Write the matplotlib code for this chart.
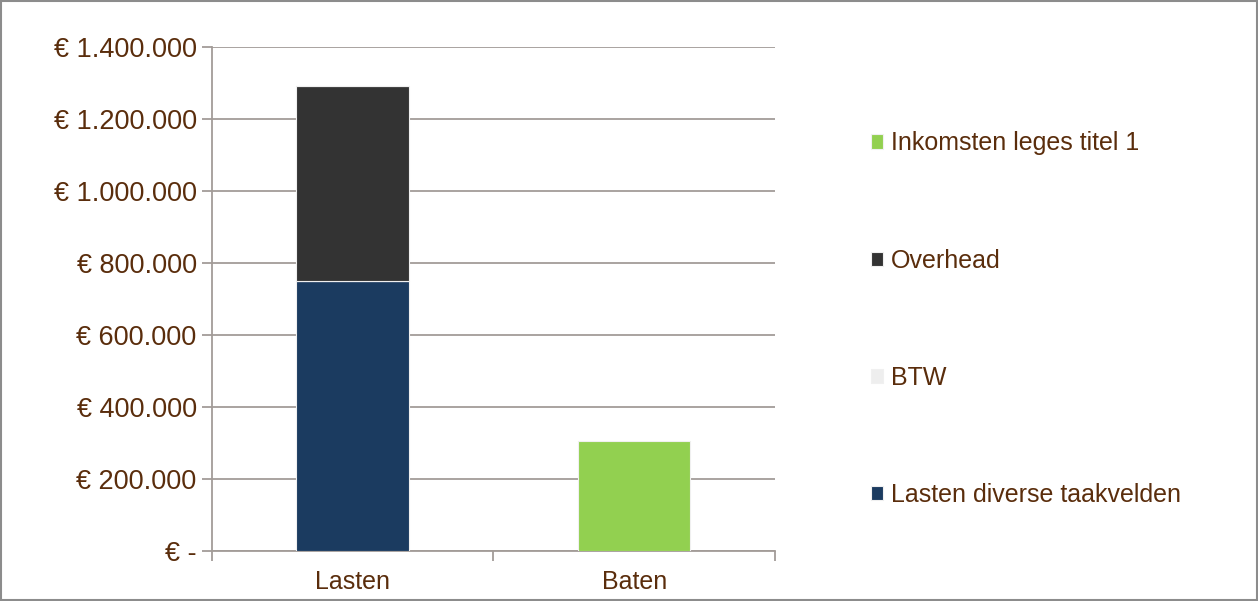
import matplotlib.pyplot as plt
import numpy as np
from matplotlib.patches import Rectangle
from matplotlib.ticker import FuncFormatter

categories = ["Lasten", "Baten"]
series_names = ["Lasten diverse taakvelden", "BTW", "Overhead", "Inkomsten leges titel 1"]
lasten_diverse = [750000, 0]
btw = [0, 0]
overhead = [542000, 0]
inkomsten = [0, 305000]
yticks = [0, 200000, 400000, 600000, 800000, 1000000, 1200000, 1400000]

colors = ["#1b3b60", "#eeeeee", "#333333", "#92d050"]
text_color = "#5a2d0c"
grid_color = "#a39c98"

plt.rcParams["font.family"] = ["Liberation Sans", "DejaVu Sans"]

fig = plt.figure(figsize=(12.58, 6.01), dpi=100)
ax = fig.add_axes([0.1685, 0.0832, 0.4475, 0.8386])

x = np.arange(len(categories))
bottom = np.zeros(len(categories))
handles = []
for name, vals, c in zip(series_names, [lasten_diverse, btw, overhead, inkomsten], colors):
    b = ax.bar(x, vals, width=0.4, bottom=bottom, color=c, label=name,
               edgecolor="#f0f0f0", linewidth=0.8, zorder=3)
    bottom += np.array(vals)
    handles.append(b)

ax.set_xlim(-0.5, 1.5)
ax.set_ylim(0, 1400000)
ax.set_yticks(yticks)

def euro(v, pos):
    if v == 0:
        return "€ -"
    return "€ " + f"{int(v):,}".replace(",", ".")

ax.yaxis.set_major_formatter(FuncFormatter(euro))
ax.grid(axis="y", color=grid_color, linewidth=1.3, zorder=0)

ax.set_xticks(x)
ax.set_xticklabels(categories)
ax.set_xticks([-0.5, 0.5, 1.5], minor=True)
ax.tick_params(axis="x", which="major", length=0, pad=14, labelsize=18, labelcolor=text_color)
ax.tick_params(axis="x", which="minor", length=7, width=1.3, color=grid_color, direction="out")
ax.tick_params(axis="y", length=7, width=1.3, color=grid_color, pad=4, labelsize=19.5, labelcolor=text_color)

for s in ["top", "right"]:
    ax.spines[s].set_visible(False)
for s in ["left", "bottom"]:
    ax.spines[s].set_color(grid_color)
    ax.spines[s].set_linewidth(1.3)

leg = ax.legend(handles=handles[::-1], loc="center left", bbox_to_anchor=(1.13, 0.46),
                frameon=False, fontsize=18, labelspacing=3.73,
                handlelength=0.5, handleheight=0.5, handletextpad=0.3)
for t in leg.get_texts():
    t.set_color(text_color)

fig.patches.append(Rectangle((0.001, 0.001), 0.998, 0.997, transform=fig.transFigure,
                             fill=False, edgecolor="#8c8c8c", linewidth=1.5))

fig.savefig("out.png", dpi=100)
